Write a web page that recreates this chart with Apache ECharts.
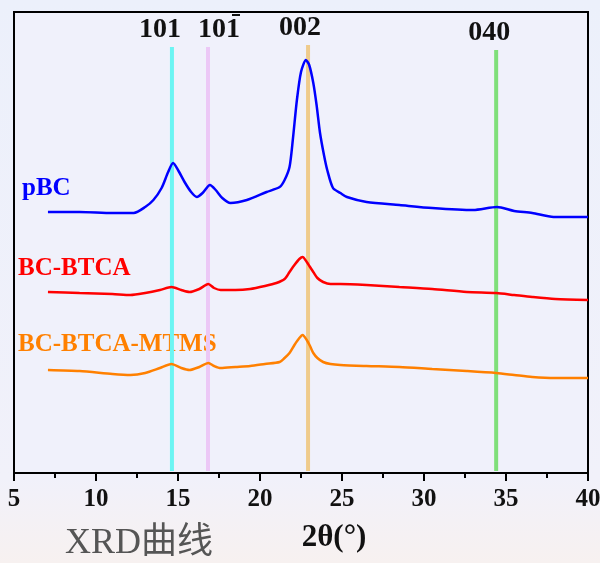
<!DOCTYPE html>
<html>
<head>
<meta charset="utf-8">
<script src="https://cdn.jsdelivr.net/npm/echarts@6/dist/echarts.min.js"></script>
<style>
    html, body { margin: 0; padding: 0; }
    #chart { width: 600px; height: 563px; }
</style>
</head>
<body>
<div id="chart"></div>
<script>
    // 2θ / intensity (a.u.)
    var pbcX = [7.07, 9, 11, 12.3, 13.0, 13.5, 14.0, 14.4, 14.7, 15.0, 15.4, 15.8, 16.15, 16.5, 16.95, 17.3, 17.7, 18.2, 19.2, 20.4, 21.2, 21.5, 21.8, 22.0, 22.25, 22.5, 22.8, 23.0, 23.25, 23.45, 23.66, 23.9, 24.1, 24.45, 24.9, 25.3, 26.5, 28.5, 30.5, 33, 34.45, 35.5, 36.6, 37.9, 40];
    var pbcY = [261, 261, 260, 260, 266, 273, 285, 301, 310, 303, 291, 281, 276, 280, 288, 283, 275, 270, 273, 281, 286, 293, 306, 333, 373, 401, 413, 408, 390, 368, 340, 318, 303, 285, 280, 276, 271, 268, 265, 263, 266, 262, 260, 256, 256];

    var btcaX = [7.07, 9, 11, 12.1, 13.0, 13.9, 14.6, 15.2, 15.7, 16.3, 16.85, 17.2, 17.6, 18.5, 19.4, 20.3, 21, 21.5, 21.8, 22.1, 22.4, 22.6, 22.85, 23.05, 23.25, 23.5, 23.85, 24.3, 24.9, 26.5, 28.5, 30.5, 32.6, 34.4, 35.5, 36.6, 38, 40];
    var btcaY = [181, 180, 179, 178, 180, 183, 186, 183, 181, 184, 189, 185, 183, 183, 184, 187, 190, 194, 201, 208, 214, 216, 211, 206, 201, 195, 191, 189, 189, 188, 186, 184, 181, 180, 178, 176, 174, 173];

    var mtmsX = [7.07, 9, 11, 12.1, 13.0, 13.9, 14.6, 15.2, 15.7, 16.3, 16.85, 17.2, 17.6, 18.5, 19.4, 20.3, 21.2, 21.5, 21.8, 22.1, 22.4, 22.6, 22.85, 23.05, 23.25, 23.5, 23.85, 24.3, 24.9, 26.5, 28.5, 30.5, 32.6, 34.4, 35.5, 36.6, 38, 40];
    var mtmsY = [103, 102, 99, 98, 100, 105, 109, 105, 103, 106, 110, 107, 105, 106, 107, 109, 111, 115, 120, 128, 135, 138, 133, 127, 120, 115, 111, 109, 108, 107, 106, 104, 102, 100, 98, 96, 95, 95];

    var seriesNames = ['pBC', 'BC-BTCA', 'BC-BTCA-MTMS'];
    var seriesColors = ['#0000ff', '#ff0000', '#ff8000'];

    // reflection marks
    var peakPos = [14.63, 16.83, 22.93, 34.4];
    var peakLabels = ['101', '101', '002', '040'];
    var peakTop = [426, 426, 428, 423];
    var peakColors = ['#6cf5f3', '#ecc8f6', '#efcb8c', '#7fdf7a'];

    var serif = '"Liberation Serif", "Times New Roman", serif';

    function zipXY(xs, ys) {
        return xs.map(function (x, i) { return [x, ys[i]]; });
    }

    var series = [];
    var labelOffset = [[-12, -17], [11, -17], [-8, -17], [-7, -17]];
    peakPos.forEach(function (p, i) {
        series.push({
            type: 'line',
            silent: true,
            symbol: 'none',
            z: 1,
            lineStyle: { color: peakColors[i], width: 4 },
            data: [[p, 2], [p, peakTop[i]]],
            endLabel: {
                show: true,
                formatter: peakLabels[i],
                distance: 0,
                align: 'center',
                verticalAlign: 'middle',
                offset: labelOffset[i],
                color: '#111',
                fontFamily: serif,
                fontWeight: 'bold',
                fontSize: 28
            }
        });
    });

    var curves = [zipXY(pbcX, pbcY), zipXY(btcaX, btcaY), zipXY(mtmsX, mtmsY)];
    curves.forEach(function (d, i) {
        series.push({
            name: seriesNames[i],
            type: 'line',
            symbol: 'none',
            smooth: 0.25,
            z: 3,
            lineStyle: { color: seriesColors[i], width: 2.5 },
            data: d
        });
    });

    var myChart = echarts.init(document.getElementById('chart'));
    var option = {
        backgroundColor: {
            type: 'linear', x: 0, y: 0, x2: 0, y2: 1,
            colorStops: [
                { offset: 0, color: '#ecf0fb' },
                { offset: 0.85, color: '#f1f1fa' },
                { offset: 1, color: '#f7f1f0' }
            ]
        },
        animation: false,
        grid: {
            left: 14, right: 12, top: 12, bottom: 90,
            outerBoundsMode: 'none',
            containLabel: false,
            show: true,
            borderColor: '#000',
            borderWidth: 2,
            backgroundColor: '#f0f1fb'
        },
        xAxis: {
            type: 'value',
            min: 5, max: 40, interval: 5,
            name: '2\u03b8(\u00b0)',
            nameLocation: 'middle',
            nameGap: 49,
            nameTextStyle: { fontFamily: serif, fontWeight: 'bold', fontSize: 31, color: '#111', padding: [0, 0, 0, 66] },
            axisLine: { show: true, lineStyle: { color: '#000', width: 2 } },
            axisTick: { show: true, length: 8, lineStyle: { color: '#000', width: 2 } },
            minorTick: { show: true, splitNumber: 2, length: 5, lineStyle: { color: '#000', width: 2 } },
            splitLine: { show: false },
            axisLabel: { fontFamily: serif, fontWeight: 'bold', fontSize: 25, color: '#111', margin: 14 }
        },
        yAxis: {
            type: 'value',
            min: 0, max: 461,
            axisLine: { show: true, lineStyle: { color: '#000', width: 2 } },
            axisTick: { show: false },
            axisLabel: { show: false },
            splitLine: { show: false }
        },
        graphic: [
            { id: 'lblPBC', type: 'text', left: 22, top: 176, style: { text: 'pBC', fill: '#0000ff', font: 'bold 25px ' + serif } },
            { id: 'lblBTCA', type: 'text', left: 18, top: 256, style: { text: 'BC-BTCA', fill: '#ff0000', font: 'bold 25px ' + serif } },
            { id: 'lblMTMS', type: 'text', left: 18, top: 332, style: { text: 'BC-BTCA-MTMS', fill: '#ff8000', font: 'bold 25px ' + serif } },
            { id: 'caption', type: 'text', left: 65, top: 526, style: { text: 'XRD曲线', fill: '#555', font: '36px "Liberation Serif", "Noto Sans CJK SC", serif' } }
        ],
        series: series
    };
    myChart.setOption(option);

    // bar over the last "1" of the 10-1 reflection label
    var barAt = myChart.convertToPixel({ gridIndex: 0 }, [peakPos[1], peakTop[1]]);
    myChart.setOption({
        graphic: [
            { id: 'bar', type: 'rect', shape: { x: barAt[0] + 24, y: barAt[1] - 33, width: 8, height: 2 }, style: { fill: '#111' } }
        ]
    });
</script>
</body>
</html>
